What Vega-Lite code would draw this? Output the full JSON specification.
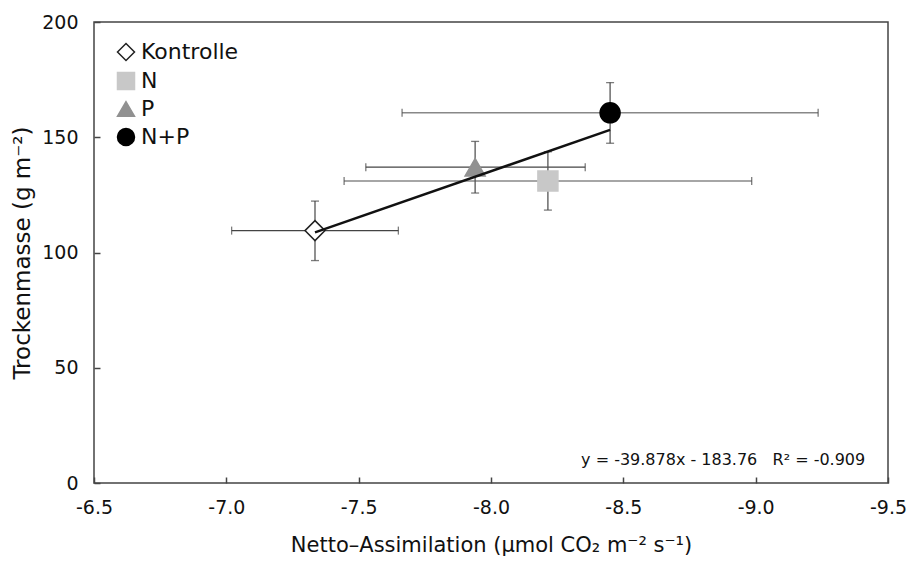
{
  "$schema": "https://vega.github.io/schema/vega-lite/v6.json",
  "width": 794,
  "height": 461,
  "autosize": "none",
  "padding": {"left": 94, "top": 22, "right": 19, "bottom": 80},
  "background": "white",
  "config": {
    "font": "DejaVu Sans",
    "view": {"stroke": "#444", "strokeWidth": 1.5},
    "locale": {"number": {"decimal": ".", "thousands": ",", "grouping": [3], "currency": ["$", ""], "minus": "-"}},
    "axis": {"grid": false, "labelColor": "#111", "titleColor": "#111", "labelFont": "DejaVu Sans", "titleFont": "DejaVu Sans", "titleFontWeight": "normal", "labelFontSize": 19, "titleFontSize": 21, "labelFlush": false},
    "legend": {"labelFont": "DejaVu Sans", "labelFontSize": 22, "labelColor": "#111", "symbolSize": 289, "symbolStrokeWidth": 1.5, "rowPadding": 5, "labelOffset": 4, "padding": 0}
  },
  "datasets": {
    "pts": [
      {"group": "Kontrolle", "x": -7.335, "xlo": -7.02, "xhi": -7.65, "y": 109.5, "ylo": 96.5, "yhi": 122.3},
      {"group": "N", "x": -8.215, "xlo": -7.445, "xhi": -8.985, "y": 131, "ylo": 118.4, "yhi": 143.7},
      {"group": "P", "x": -7.94, "xlo": -7.527, "xhi": -8.356, "y": 137, "ylo": 125.8, "yhi": 148.2},
      {"group": "N+P", "x": -8.45, "xlo": -7.664, "xhi": -9.236, "y": 160.6, "ylo": 147.4, "yhi": 173.7}
    ],
    "trend": [
      {"x": -7.335, "y": 108.75},
      {"x": -8.45, "y": 153.2}
    ],
    "note": [
      {"x": -9.414, "y": 10, "label": "y = -39.878x - 183.76\u00a0\u00a0\u00a0R² = -0.909"}
    ]
  },
  "layer": [
    {
      "data": {"name": "pts"},
      "transform": [{"filter": "datum.group === 'Kontrolle' || datum.group === 'P'"}],
      "mark": {"type": "rule", "color": "#444", "strokeWidth": 1.3},
      "encoding": {
        "x": {"field": "xlo", "type": "quantitative", "scale": {"domain": [-9.5, -6.5], "reverse": true, "nice": false, "zero": false},
          "axis": {"values": [-6.5, -7, -7.5, -8, -8.5, -9, -9.5], "format": ".1f", "ticks": true, "tickSize": 6, "tickWidth": 1.5, "tickColor": "#444", "tickOpacity": 1, "domain": false, "offset": -6, "labelPadding": 15, "title": "Netto–Assimilation (µmol CO₂ m⁻² s⁻¹)", "titlePadding": 17}},
        "x2": {"field": "xhi"},
        "y": {"field": "y", "type": "quantitative", "scale": {"domain": [0, 200], "nice": false},
          "axis": {"values": [0, 50, 100, 150, 200], "ticks": true, "tickSize": 6, "tickWidth": 1.5, "tickColor": "#444", "tickOpacity": 1, "domain": false, "offset": -6, "labelPadding": 16, "title": "Trockenmasse (g m⁻²)", "titleFontSize": 23, "titlePadding": 7}}
      }
    },
    {
      "data": {"name": "pts"},
      "transform": [{"filter": "datum.group === 'N' || datum.group === 'N+P'"}],
      "mark": {"type": "rule", "color": "#888", "strokeWidth": 1.6},
      "encoding": {
        "x": {"field": "xlo", "type": "quantitative"},
        "x2": {"field": "xhi"},
        "y": {"field": "y", "type": "quantitative"}
      }
    },
    {
      "data": {"name": "pts"},
      "mark": {"type": "rule", "color": "#555", "strokeWidth": 1.3},
      "encoding": {
        "x": {"field": "x", "type": "quantitative"},
        "y": {"field": "ylo", "type": "quantitative"},
        "y2": {"field": "yhi"}
      }
    },
    {
      "data": {"name": "pts"},
      "mark": {"type": "tick", "orient": "vertical", "color": "#444", "size": 8, "thickness": 1.3},
      "encoding": {
        "x": {"field": "xlo", "type": "quantitative"},
        "y": {"field": "y", "type": "quantitative"}
      }
    },
    {
      "data": {"name": "pts"},
      "mark": {"type": "tick", "orient": "vertical", "color": "#444", "size": 8, "thickness": 1.3},
      "encoding": {
        "x": {"field": "xhi", "type": "quantitative"},
        "y": {"field": "y", "type": "quantitative"}
      }
    },
    {
      "data": {"name": "pts"},
      "mark": {"type": "tick", "orient": "horizontal", "color": "#444", "size": 8, "thickness": 1.3},
      "encoding": {
        "x": {"field": "x", "type": "quantitative"},
        "y": {"field": "ylo", "type": "quantitative"}
      }
    },
    {
      "data": {"name": "pts"},
      "mark": {"type": "tick", "orient": "horizontal", "color": "#444", "size": 8, "thickness": 1.3},
      "encoding": {
        "x": {"field": "x", "type": "quantitative"},
        "y": {"field": "yhi", "type": "quantitative"}
      }
    },
    {
      "data": {"name": "pts"},
      "mark": {"type": "point", "filled": true, "strokeWidth": 1.5, "opacity": 1, "size": 400},
      "encoding": {
        "x": {"field": "x", "type": "quantitative"},
        "y": {"field": "y", "type": "quantitative"},
        "shape": {"field": "group", "type": "nominal", "scale": {"domain": ["Kontrolle", "N", "P", "N+P"], "range": ["diamond", "square", "triangle-up", "circle"]},
          "legend": {"title": null, "orient": "none", "legendX": 21, "legendY": 19}},
        "fill": {"field": "group", "type": "nominal", "scale": {"domain": ["Kontrolle", "N", "P", "N+P"], "range": ["white", "#c8c8c8", "#919191", "black"]},
          "legend": {"title": null, "orient": "none", "legendX": 21, "legendY": 19}},
        "stroke": {"field": "group", "type": "nominal", "scale": {"domain": ["Kontrolle", "N", "P", "N+P"], "range": ["#222", "#c8c8c8", "#919191", "black"]},
          "legend": {"title": null, "orient": "none", "legendX": 21, "legendY": 19}}
      }
    },
    {
      "data": {"name": "trend"},
      "mark": {"type": "line", "color": "#111", "strokeWidth": 2.5},
      "encoding": {
        "x": {"field": "x", "type": "quantitative"},
        "y": {"field": "y", "type": "quantitative"}
      }
    },
    {
      "data": {"name": "note"},
      "mark": {"type": "text", "align": "right", "baseline": "middle", "fontSize": 16, "color": "#111"},
      "encoding": {
        "x": {"field": "x", "type": "quantitative"},
        "y": {"field": "y", "type": "quantitative"},
        "text": {"field": "label"}
      }
    }
  ]
}
